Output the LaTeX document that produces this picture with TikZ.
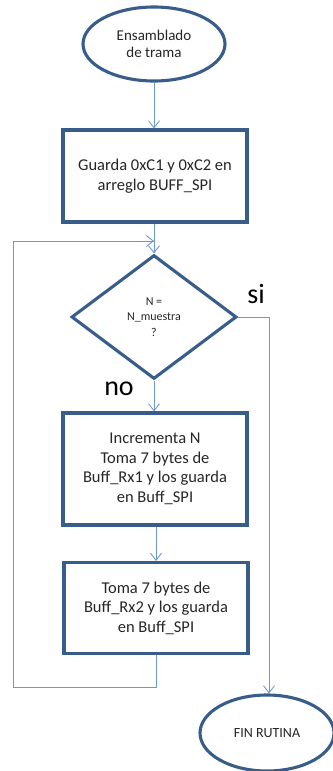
\documentclass[tikz,border=0pt]{standalone}
\usepackage{fontspec}
\setmainfont{Carlito}
\usetikzlibrary{shapes.geometric,arrows.meta}
\definecolor{outl}{HTML}{385D8A}
\definecolor{conn}{HTML}{6C98D4}
\definecolor{txt}{HTML}{262626}
\begin{document}
\begin{tikzpicture}[x=1pt,y=-1pt,
  shapebox/.style={draw=outl,line width=3.1pt,fill=white,text=txt,align=center,inner sep=0pt},
  procbox/.style={shapebox,rectangle,minimum width=184pt},
  term/.style={shapebox,ellipse,minimum width=142pt,minimum height=74pt},
  flow/.style={draw=conn,line width=0.9pt,-{Straight Barb[length=7pt,width=11pt]}},
  plain/.style={draw=conn,line width=0.9pt}]
\useasboundingbox (0,0) rectangle (332,771);

% terminals and steps
\node[term,font=\fontsize{15}{17}\selectfont] (start) at (154,44) {Ensamblado\\de trama};
\node[procbox,minimum height=92pt,font=\fontsize{16.5}{20}\selectfont] (b1) at (155,176) {Guarda 0xC1 y 0xC2 en\\arreglo BUFF\_SPI};
\node[shapebox,diamond,aspect=1.33,minimum width=165pt,minimum height=124pt,font=\fontsize{12}{15.5}\selectfont] (dec) at (154,317) {N =\\N\_muestra\\?};
\node[procbox,minimum height=112pt,font=\fontsize{16.5}{19.5}\selectfont] (b2) at (155,469) {Incrementa N\\Toma 7 bytes de\\Buff\_Rx1 y los guarda\\en Buff\_SPI};
\node[procbox,minimum height=91pt,font=\fontsize{16.5}{19.5}\selectfont] (b3) at (156,608) {Toma 7 bytes de\\Buff\_Rx2 y los guarda\\en Buff\_SPI};
\node[shapebox,ellipse,minimum width=134pt,minimum height=76pt,font=\fontsize{14}{16}\selectfont] (fin) at (267,733) {FIN RUTINA};

% branch labels
\node[font=\fontsize{28}{28}\selectfont,text=black] (si) at (256,294) {si};
\node[font=\fontsize{28}{28}\selectfont,text=black] (no) at (119,389) {no};

% routing points
\coordinate (join) at (154,241);
\coordinate (loopR) at (156,687);
\coordinate (loopL) at (13,687);
\coordinate (yesR) at (269,317);

% connectors
\draw[flow] (start.south) -- (b1.north -| start.south);
\draw[flow] (b1.south -| join) -- (dec.north);
\draw[flow] (dec.south) -- (b2.north -| dec.south);
\draw[flow] (b2.south -| b3.south) -- (b3.north);
\draw[plain] (b3.south) -- (loopR) -- (loopL) |- (join);
\draw[flow] (loopL |- join) -- (join);
\draw[flow] (dec.east) -- (yesR) -- (fin.north -| yesR);
\end{tikzpicture}
\end{document}
